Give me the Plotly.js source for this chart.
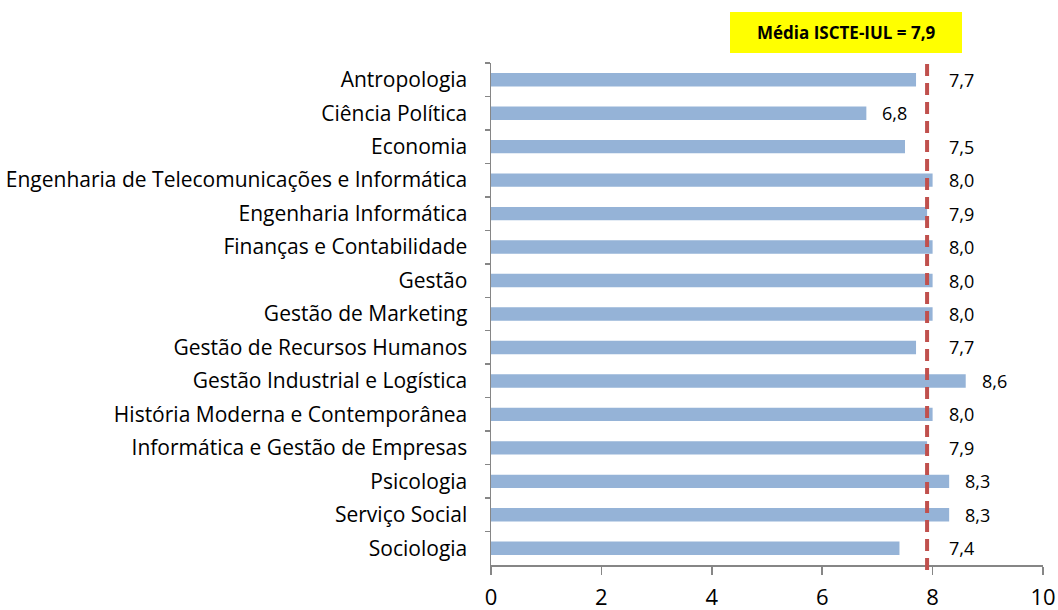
<!DOCTYPE html>
<html><head><meta charset="utf-8">
<script src="https://cdn.plot.ly/plotly-3.0.1.min.js"></script>
<style>body{margin:0;background:#fff}#chart{width:1058px;height:610px}</style>
</head><body><div id="chart"></div>
<script>
const categories = ["Antropologia","Ciência Política","Economia","Engenharia de Telecomunicações e Informática","Engenharia Informática","Finanças e Contabilidade","Gestão","Gestão de Marketing","Gestão de Recursos Humanos","Gestão Industrial e Logística","História Moderna e Contemporânea","Informática e Gestão de Empresas","Psicologia","Serviço Social","Sociologia"];
const values = [7.7,6.8,7.5,8.0,7.9,8.0,8.0,8.0,7.7,8.6,8.0,7.9,8.3,8.3,7.4];
const meanValue = 7.9;
const meanLabel = "Média ISCTE-IUL = 7,9";
const xTicks = [0,2,4,6,8,10];

const FONT = "Open Sans, sans-serif";
const fmt = v => v.toFixed(1).replace('.', ',');

const annotations = values.map((v, i) => ({
  x: (v >= 7 && v < 8) ? 8 : v, y: categories[i], xref: 'x', yref: 'y',
  text: fmt(v), showarrow: false, xanchor: 'left', xshift: 14,
  font: {family: FONT, size: 18, color: '#000'}
}));

const plotW = 1058 - 491 - 15, plotH = 610 - 63 - 45;
const boxX0 = (730 - 491) / plotW, boxX1 = (962 - 491) / plotW;
const boxY0 = (565 - 53) / plotH, boxY1 = (565 - 12) / plotH;

annotations.push({
  x: (boxX0 + boxX1) / 2, y: (boxY0 + boxY1) / 2, xref: 'paper', yref: 'paper',
  xanchor: 'center', yanchor: 'middle',
  text: '<b>' + meanLabel + '</b>', showarrow: false,
  font: {family: FONT, size: 17, color: '#000'}
});

const layout = {
  width: 1058, height: 610,
  margin: {l: 491, r: 15, t: 63, b: 45},
  paper_bgcolor: '#fff', plot_bgcolor: '#fff',
  showlegend: false,
  bargap: 0.6,
  font: {family: FONT, color: '#000'},
  xaxis: {
    range: [0, 10], tickvals: xTicks, ticktext: xTicks.map(String),
    showgrid: false, zeroline: false, showline: true, linecolor: '#868686', linewidth: 1.5,
    ticks: 'outside', ticklen: 8, tickcolor: '#868686', tickwidth: 1.5,
    ticklabelstandoff: 4,
    tickfont: {family: FONT, size: 22, color: '#000'}, fixedrange: true
  },
  yaxis: {
    type: 'category', autorange: 'reversed',
    showgrid: false, zeroline: false, showline: true, linecolor: '#868686', linewidth: 1.5,
    ticks: 'outside', ticklen: 5, tickcolor: '#868686', tickwidth: 1.5, tickson: 'boundaries',
    ticklabelstandoff: 18,
    tickfont: {family: FONT, size: 21, color: '#000'}, fixedrange: true
  },
  shapes: [
    {type: 'rect', xref: 'paper', yref: 'paper', x0: boxX0, x1: boxX1, y0: boxY0, y1: boxY1,
     fillcolor: '#FFFF00', line: {width: 0}, layer: 'below'},
    {type: 'line', xref: 'x', yref: 'paper', x0: meanValue, x1: meanValue, y0: -0.01, y1: 1.005,
     line: {color: '#C0504D', width: 4, dash: '12px,7px'}}
  ],
  annotations: annotations
};

const trace = {
  type: 'bar', orientation: 'h', y: categories, x: values,
  marker: {color: '#95B3D7'}, hoverinfo: 'none', cliponaxis: false
};

Plotly.newPlot('chart', [trace], layout, {displayModeBar: false, staticPlot: true});
</script>
</body></html>
